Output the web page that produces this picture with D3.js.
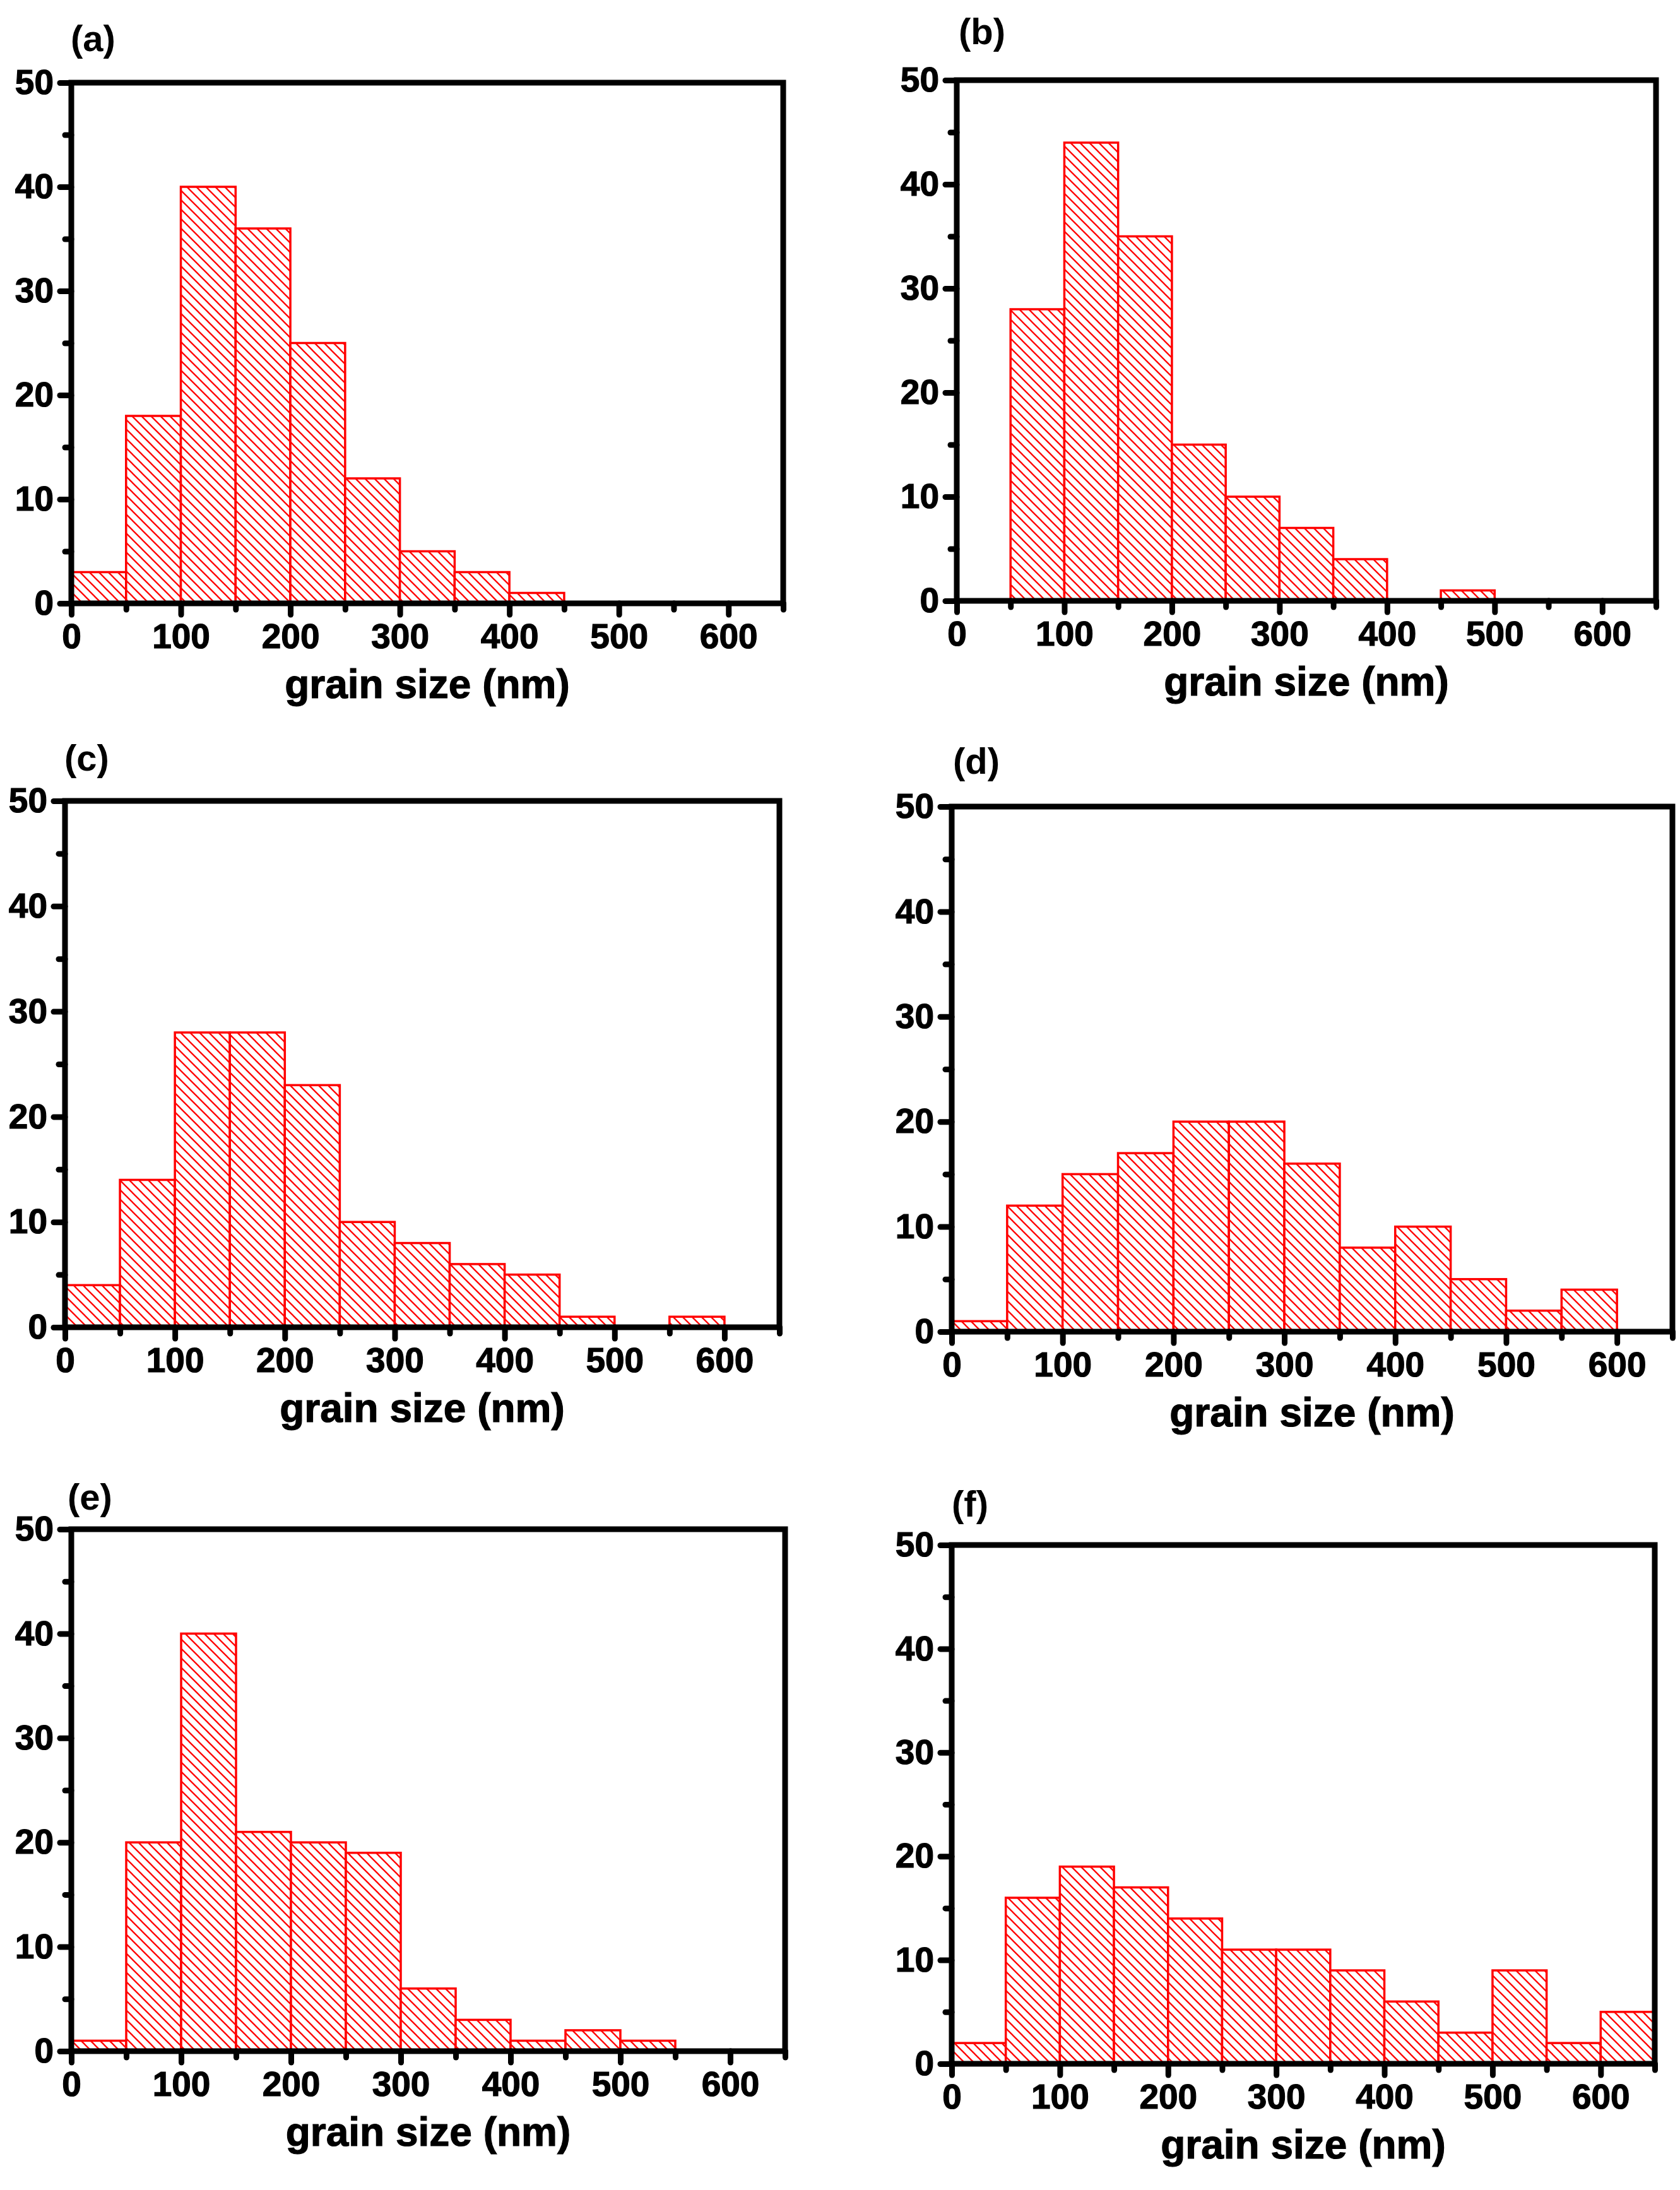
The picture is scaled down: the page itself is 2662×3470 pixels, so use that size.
<!DOCTYPE html>
<html>
<head>
<meta charset="utf-8">
<script src="https://cdn.jsdelivr.net/npm/d3@7"></script>
<style>
  html, body { margin: 0; padding: 0; background: #fff; }
  svg { display: block; }
</style>
</head>
<body>
<div id="chart"></div>
<script>
// bin edges of the histograms (nm)
const binStarts = [0, 50, 100, 150, 200, 250, 300, 350, 400, 450, 500, 550, 600];
const binWidth = 50;

// counts per bin, one array per panel
const countsA = [3, 18, 40, 36, 25, 12, 5, 3, 1, 0, 0, 0, 0];
const countsB = [0, 28, 44, 35, 15, 10, 7, 4, 0, 1, 0, 0, 0];
const countsC = [4, 14, 28, 28, 23, 10, 8, 6, 5, 1, 0, 1, 0];
const countsD = [1, 12, 15, 17, 20, 20, 16, 8, 10, 5, 2, 4, 0];
const countsE = [1, 20, 40, 21, 20, 19, 6, 3, 1, 2, 1, 0, 0];
const countsF = [2, 16, 19, 17, 14, 11, 11, 9, 6, 3, 9, 2, 5];

const panelLabels = ["(a)", "(b)", "(c)", "(d)", "(e)", "(f)"];
const panelCounts = [countsA, countsB, countsC, countsD, countsE, countsF];

const xMajor = [0, 100, 200, 300, 400, 500, 600];
const xMinor = [50, 150, 250, 350, 450, 550, 650];
const yMajor = [0, 10, 20, 30, 40, 50];
const yMinor = [5, 15, 25, 35, 45];
const xTitle = "grain size (nm)";

// frame of every panel in page pixels, plus where its letter sits
const frames = [
  { l: 113, r: 1241, t: 131, b: 956, lx: 112, ly: 81 },
  { l: 1516, r: 2624, t: 127, b: 952, lx: 1519, ly: 70 },
  { l: 103, r: 1235, t: 1269, b: 2103, lx: 102, ly: 1221 },
  { l: 1508, r: 2650, t: 1278, b: 2110, lx: 1510, ly: 1226 },
  { l: 113, r: 1244, t: 2423, b: 3250, lx: 107, ly: 2392 },
  { l: 1508, r: 2622, t: 2448, b: 3270, lx: 1508, ly: 2403 }
];

const W = 2662, H = 3470;
const RED = "#ff0000";
const FONT = "'Liberation Sans', Arial, sans-serif";

const svg = d3.select("#chart").append("svg")
    .attr("width", W)
    .attr("height", H)
    .attr("viewBox", `0 0 ${W} ${H}`);

svg.append("rect").attr("width", W).attr("height", H).attr("fill", "#fff");

// diagonal hatch, like Origin's "\\\" fill
const pat = svg.append("defs").append("pattern")
    .attr("id", "hatch")
    .attr("patternUnits", "userSpaceOnUse")
    .attr("width", 15)
    .attr("height", 15);
pat.append("rect").attr("width", 15).attr("height", 15).attr("fill", "#fff");
pat.append("path")
    .attr("d", "M-2,-2 L17,17 M-2,13 L2,17 M13,-2 L17,2")
    .attr("stroke", RED)
    .attr("stroke-width", 2.3);

const boldText = sel => sel
    .attr("fill", "#000")
    .attr("stroke", "#000")
    .attr("stroke-width", 1.2)
    .style("font-family", FONT)
    .style("font-weight", "bold");

panelCounts.forEach((counts, i) => {
    const f = frames[i];
    const x = d3.scaleLinear().domain([0, 650]).range([f.l, f.r]);
    const y = d3.scaleLinear().domain([0, 50]).range([f.b, f.t]);
    const g = svg.append("g");

    const bins = binStarts.map((s, k) => ({ x0: s, x1: s + binWidth, v: counts[k] }))
        .filter(d => d.v > 0);

    g.selectAll("rect.bar")
        .data(bins)
        .join("rect")
        .attr("class", "bar")
        .attr("x", d => x(d.x0))
        .attr("y", d => y(d.v))
        .attr("width", d => x(d.x1) - x(d.x0))
        .attr("height", d => y(0) - y(d.v))
        .attr("fill", "url(#hatch)")
        .attr("stroke", RED)
        .attr("stroke-width", 3.5);

    // axes
    const styleAxis = sel => {
        sel.select(".domain").remove();
        sel.selectAll(".tick line")
            .attr("stroke", "#000")
            .attr("stroke-width", 9)
            .attr("stroke-linecap", "round");
        sel.selectAll(".tick text")
            .call(boldText)
            .style("font-size", "55px");
    };

    g.append("g")
        .attr("transform", `translate(${f.l},0)`)
        .call(d3.axisLeft(y).tickValues(yMajor).tickSize(18).tickPadding(10).tickFormat(d3.format("d")))
        .call(styleAxis);
    g.append("g")
        .attr("transform", `translate(${f.l},0)`)
        .call(d3.axisLeft(y).tickValues(yMinor).tickSize(10).tickFormat(""))
        .call(styleAxis);
    g.append("g")
        .attr("transform", `translate(0,${f.b})`)
        .call(d3.axisBottom(x).tickValues(xMajor).tickSize(18).tickPadding(14).tickFormat(d3.format("d")))
        .call(styleAxis);
    g.append("g")
        .attr("transform", `translate(0,${f.b})`)
        .call(d3.axisBottom(x).tickValues(xMinor).tickSize(10).tickFormat(""))
        .call(styleAxis);

    // box frame
    g.append("rect")
        .attr("x", f.l)
        .attr("y", f.t)
        .attr("width", f.r - f.l)
        .attr("height", f.b - f.t)
        .attr("fill", "none")
        .attr("stroke", "#000")
        .attr("stroke-width", 9);

    g.append("text")
        .attr("x", (f.l + f.r) / 2)
        .attr("y", f.b + 150)
        .attr("text-anchor", "middle")
        .call(boldText)
        .style("font-size", "64px")
        .text(xTitle);

    g.append("text")
        .attr("x", f.lx)
        .attr("y", f.ly)
        .call(boldText)
        .attr("stroke-width", 0)
        .style("font-size", "58px")
        .text(panelLabels[i]);
});
</script>
</body>
</html>
